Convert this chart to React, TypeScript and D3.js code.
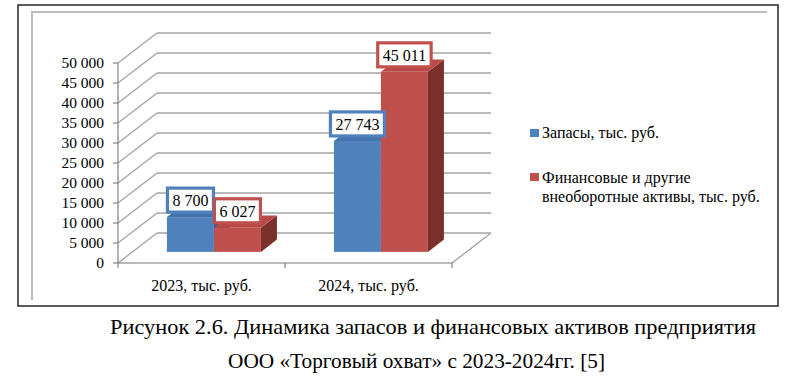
import { useEffect, useRef } from "react";
import * as d3 from "d3";

const categories = ["2023, тыс. руб.", "2024, тыс. руб."];
const seriesNames = ["Запасы, тыс. руб.", "Финансовые и другие внеоборотные активы, тыс. руб."];
const zapasy = [8700, 27743];
const finAktivy = [6027, 45011];
const yTicks = [0, 5000, 10000, 15000, 20000, 25000, 30000, 35000, 40000, 45000, 50000];
const captionLines = [
  "Рисунок 2.6. Динамика запасов и финансовых активов предприятия",
  "ООО «Торговый охват» с 2023-2024гг. [5]",
];

const FONT = '"Liberation Serif", "DejaVu Serif", serif';

export default function App() {
  const ref = useRef<SVGSVGElement>(null);

  useEffect(() => {
    const svg = d3.select(ref.current);
    svg.selectAll("*").remove();

    const fmt = (v: number) => d3.format(",")(v).replace(/,/g, " ");

    // outer frame and inner chart area edge
    svg.append("rect").attr("x", 18).attr("y", 5).attr("width", 760).attr("height", 301)
      .attr("fill", "#fff").attr("stroke", "#262626").attr("stroke-width", 1.5);
    svg.append("path").attr("d", "M32,300 L32,12 L767,12")
      .attr("fill", "none").attr("stroke", "#bdbdbd").attr("stroke-width", 2);

    // 3d geometry
    const depth = { dx: 39, dy: -30 };
    const barZ0 = 0.37, barZ1 = 0.78;

    const x = d3.scaleBand<string>().domain(categories).range([118, 452]).padding(0);
    const y = d3.scaleLinear().domain([0, 50000]).range([263, 63]);
    const groupW = 94;
    const xSub = d3.scaleBand<number>().domain([0, 1])
      .range([(x.bandwidth() - groupW) / 2 - 2, (x.bandwidth() + groupW) / 2 - 2]);

    const g = svg.append("g").style("font-family", FONT);

    // back wall and side wall gridlines
    yTicks.forEach((t) => {
      const yy = y(t);
      g.append("line")
        .attr("x1", 118).attr("y1", yy)
        .attr("x2", 118 + depth.dx).attr("y2", yy + depth.dy)
        .attr("stroke", "#a3a3a3").attr("stroke-width", 1.3);
      g.append("line")
        .attr("x1", 118 + depth.dx).attr("y1", yy + depth.dy)
        .attr("x2", 452 + depth.dx).attr("y2", yy + depth.dy)
        .attr("stroke", "#a3a3a3").attr("stroke-width", 1.3);
    });

    // floor edges
    g.append("path")
      .attr("d", `M118,${y(0)} L452,${y(0)} L${452 + depth.dx},${y(0) + depth.dy}`)
      .attr("fill", "none").attr("stroke", "#a3a3a3").attr("stroke-width", 1.3);

    // y axis
    g.append("line").attr("x1", 118).attr("x2", 118).attr("y1", y(0)).attr("y2", y(50000))
      .attr("stroke", "#8c8c8c").attr("stroke-width", 1.3);
    yTicks.forEach((t) => {
      g.append("line").attr("x1", 113).attr("x2", 118).attr("y1", y(t)).attr("y2", y(t))
        .attr("stroke", "#8c8c8c").attr("stroke-width", 1.3);
      g.append("text").attr("x", 104).attr("y", y(t) + 5)
        .attr("text-anchor", "end").style("font-size", "15.5px")
        .attr("fill", "#000").text(fmt(t));
    });

    // x axis ticks and labels
    [118, 285, 452].forEach((xx) => {
      g.append("line").attr("x1", xx).attr("x2", xx).attr("y1", y(0)).attr("y2", y(0) + 5)
        .attr("stroke", "#8c8c8c").attr("stroke-width", 1.3);
    });
    categories.forEach((c) => {
      g.append("text").attr("x", x(c)! + x.bandwidth() / 2).attr("y", 291)
        .attr("text-anchor", "middle").style("font-size", "16px")
        .text(c);
    });

    const colors = [
      { front: "#4f81bd", top: "#4674ae", side: "#385d8a" },
      { front: "#c0504d", top: "#b94946", side: "#7c302d" },
    ];
    const series = [zapasy, finAktivy];

    // bars
    categories.forEach((c, ci) => {
      series.forEach((vals, si) => {
        const v = vals[ci];
        const ox0 = depth.dx * barZ0, oy0 = depth.dy * barZ0;
        const ddx = depth.dx * (barZ1 - barZ0), ddy = depth.dy * (barZ1 - barZ0);
        const x0 = x(c)! + xSub(si)! + ox0;
        const x1 = x0 + xSub.bandwidth();
        const yb = y(0) + oy0;
        const yt = y(v) + oy0;
        const col = colors[si];
        g.append("path")
          .attr("d", `M${x1},${yb} L${x1 + ddx},${yb + ddy} L${x1 + ddx},${yt + ddy} L${x1},${yt} Z`)
          .attr("fill", col.side);
        g.append("path")
          .attr("d", `M${x0},${yt} L${x0 + ddx},${yt + ddy} L${x1 + ddx},${yt + ddy} L${x1},${yt} Z`)
          .attr("fill", col.top);
        g.append("rect").attr("x", x0).attr("y", yt).attr("width", x1 - x0).attr("height", yb - yt)
          .attr("fill", col.front);
      });
    });

    // data labels
    categories.forEach((c, ci) => {
      series.forEach((vals, si) => {
        const v = vals[ci];
        const cx = x(c)! + xSub(si)! + depth.dx * barZ0 + xSub.bandwidth() / 2;
        const yt = y(v) + depth.dy * barZ0;
        const lg = g.append("g");
        const rect = lg.append("rect");
        const txt = lg.append("text").attr("x", cx).attr("y", yt - 11)
          .attr("text-anchor", "middle").style("font-size", "16px")
          .attr("fill", "#000").text(fmt(v));
        const w = (txt.node() as SVGTextElement).getComputedTextLength() + 10;
        rect.attr("x", cx - w / 2).attr("y", yt - 29).attr("width", w).attr("height", 24)
          .attr("fill", "#fff").attr("stroke", colors[si].front).attr("stroke-width", 3.2);
      });
    });

    // legend
    const legend = svg.append("g").style("font-family", FONT).style("font-size", "16px");
    legend.append("rect").attr("x", 530).attr("y", 129).attr("width", 9).attr("height", 8)
      .attr("fill", colors[0].front);
    legend.append("text").attr("x", 542).attr("y", 138).text(seriesNames[0]);
    legend.append("rect").attr("x", 530).attr("y", 173).attr("width", 9).attr("height", 8)
      .attr("fill", colors[1].front);
    const lt = legend.append("text");
    lt.append("tspan").attr("x", 542).attr("y", 183).text("Финансовые и другие");
    lt.append("tspan").attr("x", 542).attr("y", 202).text("внеоборотные активы, тыс. руб.");

    // caption
    const cap = svg.append("g").style("font-family", FONT).style("font-size", "22px");
    cap.append("text").attr("x", 110).attr("y", 334)
      .attr("textLength", 646).attr("lengthAdjust", "spacingAndGlyphs")
      .text(captionLines[0]);
    cap.append("text").attr("x", 228).attr("y", 368)
      .attr("textLength", 377).attr("lengthAdjust", "spacingAndGlyphs")
      .text(captionLines[1]);
  }, []);

  return (
    <svg
      ref={ref}
      width={800}
      height={391}
      style={{ position: "absolute", left: 0, top: 0, background: "#fff" }}
    ></svg>
  );
}
